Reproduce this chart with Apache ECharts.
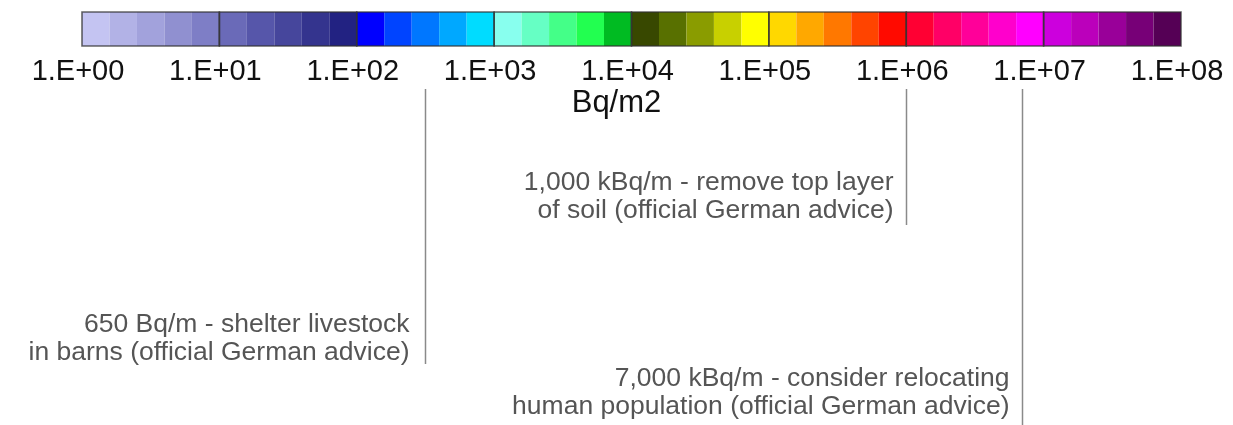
<!DOCTYPE html>
<html>
<head>
<meta charset="utf-8">
<script src="https://cdn.jsdelivr.net/npm/echarts@6/dist/echarts.min.js"></script>
<style>html,body{margin:0;padding:0;background:#fff}#c{width:1233px;height:425px}</style>
</head>
<body>
<div id="c"></div>
<script>
// ---- data ----
const tickLabels = ['1.E+00','1.E+01','1.E+02','1.E+03','1.E+04','1.E+05','1.E+06','1.E+07','1.E+08'];
const unitLabel = 'Bq/m2';
const stepsPerDecade = 5;
const cellColors = [
  '#c4c4f2','#b2b2e6','#a2a2dc','#9090d0','#7e7ec6',
  '#6a6ab8','#5656aa','#46469c','#34348e','#222282',
  '#0000ff','#0044ff','#0077ff','#00a8ff','#00dcff',
  '#88ffee','#66ffc4','#44ff88','#22ff50','#00bb22',
  '#384800','#587000','#8a9c00','#c8d000','#ffff00',
  '#ffd800','#ffa800','#ff7800','#ff4400','#ff0a00',
  '#ff0033','#ff0066','#ff0099','#ff00cc','#ff00ff',
  '#cc00dd','#bb00bb','#990099','#770077','#550055'
];
// thresholds as placed on the scale in the picture (Bq/m2)
const markerValues = [316, 1e6, 7e6];
const markerTexts = [
  ['650 Bq/m - shelter livestock', 'in barns (official German advice)'],
  ['1,000 kBq/m - remove top layer', 'of soil (official German advice)'],
  ['7,000 kBq/m - consider relocating', 'human population (official German advice)']
];

// ---- layout (pixels, not data) ----
const markerLineLen = [275, 136, 340];
const markerTextY = [[325, 353], [183, 211], [379, 407]];
const markerTextGap = [16, 13, 13];

const FONT = '"Liberation Sans", Arial, sans-serif';
const decades = tickLabels.length - 1;
const cellData = cellColors.map((c, i) => [i / stepsPerDecade, (i + 1) / stepsPerDecade, i]);
const decadeData = Array.from({length: decades}, (_, i) => [i, i + 1]);
const markerData = markerValues.map((v, i) => [Math.log10(v), i]);

const chart = echarts.init(document.getElementById('c'), null, {renderer: 'canvas'});
chart.setOption({
  animation: false,
  backgroundColor: '#fff',
  title: {
    text: unitLabel, left: 'center', top: 83,
    textStyle: {fontFamily: FONT, fontSize: 31, fontWeight: 'normal', color: '#111'}
  },
  grid: [
    {left: 82, right: 52, top: 12, height: 34},
    {left: 82, right: 52, top: 89, bottom: 0}
  ],
  xAxis: [
    {
      gridIndex: 0, type: 'value', min: 0, max: decades, interval: 1,
      axisLine: {show: false}, axisTick: {show: false}, splitLine: {show: false},
      axisLabel: {
        margin: 11, fontFamily: FONT, fontSize: 29, color: '#111',
        padding: [0, 8, 0, 0],
        formatter: v => tickLabels[Math.round(v)]
      }
    },
    {gridIndex: 1, type: 'value', min: 0, max: decades, show: false}
  ],
  yAxis: [
    {gridIndex: 0, type: 'value', min: 0, max: 1, show: false},
    {gridIndex: 1, type: 'value', min: 0, max: 1, show: false}
  ],
  series: [
    {
      type: 'custom', xAxisIndex: 0, yAxisIndex: 0, data: cellData, z: 2,
      renderItem: (params, api) => {
        const a = api.coord([api.value(0), 1]);
        const b = api.coord([api.value(1), 0]);
        return {type: 'rect', shape: {x: a[0], y: a[1], width: b[0] - a[0], height: b[1] - a[1]},
          style: {fill: cellColors[api.value(2)], stroke: null}};
      }
    },
    {
      type: 'custom', xAxisIndex: 0, yAxisIndex: 0, data: decadeData, z: 5,
      renderItem: (params, api) => {
        const a = api.coord([api.value(0), 1]);
        const b = api.coord([api.value(1), 0]);
        return {type: 'rect', shape: {x: a[0], y: a[1], width: b[0] - a[0], height: b[1] - a[1]},
          style: {fill: 'none', stroke: 'rgba(50,50,50,0.75)', lineWidth: 1.6}};
      }
    },
    {
      type: 'custom', xAxisIndex: 1, yAxisIndex: 1, data: markerData, z: 3,
      renderItem: (params, api) => {
        const i = api.value(1);
        const x = Math.round(api.coord([api.value(0), 0])[0]) + 0.5;
        const top = params.coordSys.y;
        const children = [{
          type: 'line', shape: {x1: x, y1: top, x2: x, y2: top + markerLineLen[i]},
          style: {stroke: '#8a8a8a', lineWidth: 1.5}
        }];
        markerTexts[i].forEach((t, k) => {
          children.push({type: 'text', style: {
            text: t, x: x - markerTextGap[i], y: markerTextY[i][k], align: 'right', verticalAlign: 'middle',
            fill: '#555', font: '26.5px ' + FONT
          }});
        });
        return {type: 'group', children};
      }
    }
  ]
});
</script>
</body>
</html>
